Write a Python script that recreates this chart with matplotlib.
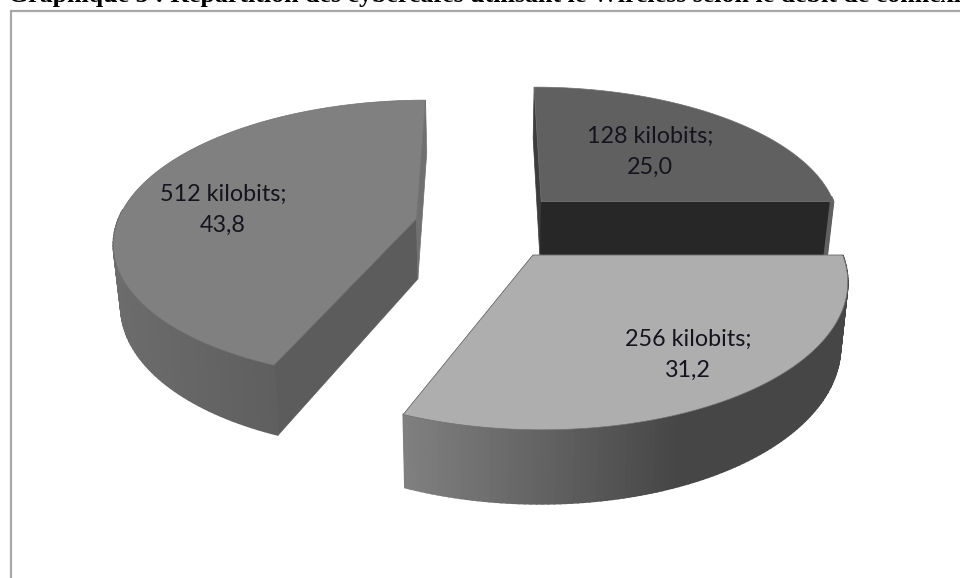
import numpy as np
import matplotlib
matplotlib.use('Agg')
import matplotlib.pyplot as plt
from matplotlib.patches import Polygon

# Chart values
categories = ['128 kilobits', '256 kilobits', '512 kilobits']
shares = [25.0, 31.2, 43.8]
title = 'Graphique 5 : Répartition des cybercafés utilisant le Wireless selon le débit de connexion'

# Slice styles, in the same order as the categories
top_colors = ['#606060', '#aeaeae', '#808080']
side_left = ['#606060', '#808080', '#6c6c6c']
side_right = ['#606060', '#464646', '#5c5c5c']
wall_start = ['#3c3c3c', '#777777', '#5c5c5c']
wall_end = ['#272727', '#777777', '#707070']
label_pos = [(650, 152), (688, 355), (223, 210)]
draw_order = [0, 2, 1]

# Camera fitted on the reference: vanishing point and pie size in pixels
VP_X, VP_Y = 486, -692
DIST = 917
SCALE = 300
TILT = 0.1508
EXPLODE = 0.25
CENTER = (0.012, -0.003)
THICK = 0.066
TAPER = 0.98


def project(x, y):
    w = 1 + TILT * y
    return VP_X + SCALE * x / w, VP_Y + DIST / w


def extrude(u, v):
    return VP_X + (u - VP_X) * TAPER, v + THICK * (v - VP_Y)


def pts(u, v):
    return np.column_stack([u, v])


def draw_slice(ax, start, stop, i):
    mid = np.radians((start + stop) / 2)
    cx = CENTER[0] + EXPLODE * np.sin(mid)
    cy = CENTER[1] + EXPLODE * np.cos(mid)
    ang = np.radians(np.linspace(start, stop, 120))

    u, v = project(cx + np.sin(ang), cy + np.cos(ang))
    ub, vb = extrude(u, v)
    au, av = project(np.array([cx]), np.array([cy]))
    aub, avb = extrude(au, av)

    # radial walls first
    ax.add_patch(Polygon(pts([au[0], u[0], ub[0], aub[0]], [av[0], v[0], vb[0], avb[0]]),
                         fc=wall_start[i], ec=wall_start[i], lw=0.5))
    ax.add_patch(Polygon(pts([au[0], u[-1], ub[-1], aub[0]], [av[0], v[-1], vb[-1], avb[0]]),
                         fc=wall_end[i], ec=wall_end[i], lw=0.5))

    # outer wall, only the part turned to the viewer, shaded from left to right
    left = np.array(matplotlib.colors.to_rgb(side_left[i]))
    right = np.array(matplotlib.colors.to_rgb(side_right[i]))
    span = max(u.max() - u.min(), 1)
    for k in range(len(u) - 1):
        if np.cos(ang[k]) > 0.05:
            continue
        t = min(1, (0.5 * (u[k] + u[k + 1]) - u.min()) / (span * 0.62))
        col = left + (right - left) * t
        quad = pts([u[k], u[k + 1], ub[k + 1], ub[k]], [v[k], v[k + 1], vb[k + 1], vb[k]])
        ax.add_patch(Polygon(quad, fc=col, ec=col, lw=1.2))

    outline = pts(np.r_[au, u], np.r_[av, v])
    ax.add_patch(Polygon(outline, fc=top_colors[i], ec='#707070', lw=0.5))


fig = plt.figure(figsize=(9.6, 5.78), dpi=100)
ax = fig.add_axes([0, 0, 1, 1])
ax.set_xlim(0, 960)
ax.set_ylim(578, 0)
ax.axis('off')

# Chart frame, cut off by the image on the right and at the bottom
ax.plot([10.5, 10.5, 970], [590, 10.5, 10.5], color='#a8a8a8', lw=1.6, solid_joinstyle='miter')

edges = np.cumsum([0] + shares) * 3.6
for i in draw_order:
    draw_slice(ax, edges[i], edges[i + 1], i)

for i, name in enumerate(categories):
    value = f'{shares[i]:.1f}'.replace('.', ',')
    ax.text(label_pos[i][0], label_pos[i][1], f'{name};\n{value}', ha='center', va='center',
            fontsize=16.8, family='Lato', color='#14141e', linespacing=1.6)

ax.text(8, 2, title, fontsize=18.6, family='Liberation Serif', fontweight='bold',
        ha='left', va='baseline', color='black', clip_on=False)

fig.savefig('out.png', dpi=100)
